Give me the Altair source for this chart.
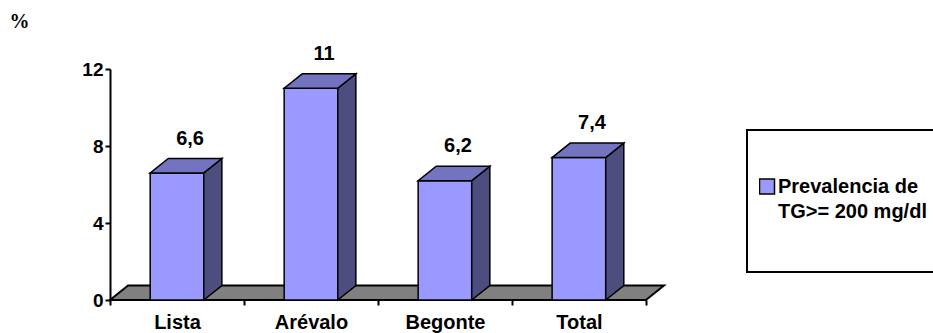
import json

import altair as alt
import pandas as pd

# Prevalence of TG >= 200 mg/dl (%) by area
categories = ["Lista", "Arévalo", "Begonte", "Total"]
values = [6.6, 11, 6.2, 7.4]
legend_lines = ["Prevalencia de", "TG>= 200 mg/dl"]
y_ticks = [0, 4, 8, 12]

series = " ".join(legend_lines)

FRONT = "#9999FF"
SIDE = "#4D4D80"
TOP = "#7373BF"
FLOOR = "#808080"
FONT = "Liberation Sans"

# pseudo-3D geometry, in data units
BAR_W = 0.4
DEPTH_X = 0.135
DEPTH_Y = 0.75

PLOT_W, PLOT_H = 556, 231
n = len(categories)
X_MAX = n + 0.15
Y_MAX = 12
BAND_PX = PLOT_W / X_MAX

front_rows, side_rows, top_rows = [], [], []
for i, (cat, v) in enumerate(zip(categories, values)):
    x1 = i + 0.5 - BAR_W / 2
    x2 = x1 + BAR_W
    front_rows.append({
        "cat": cat, "series": series, "x1": x1, "x2": x2, "value": v, "zero": 0,
        "label": f"{v:g}".replace(".", ","),
        "lx": (x1 + x2) / 2 + DEPTH_X / 2, "ly": v + DEPTH_Y,
    })
    side_rows += [
        {"cat": cat, "x": x2, "lo": 0, "hi": v},
        {"cat": cat, "x": x2 + DEPTH_X, "lo": DEPTH_Y, "hi": v + DEPTH_Y},
    ]
    top_rows += [
        {"cat": cat, "x": x1, "lo": v, "hi": v},
        {"cat": cat, "x": x1 + DEPTH_X, "lo": v, "hi": v + DEPTH_Y},
        {"cat": cat, "x": x2, "lo": v, "hi": v + DEPTH_Y},
        {"cat": cat, "x": x2 + DEPTH_X, "lo": v + DEPTH_Y, "hi": v + DEPTH_Y},
    ]
floor_rows = [
    {"x": 0, "lo": 0, "hi": 0},
    {"x": DEPTH_X, "lo": 0, "hi": DEPTH_Y},
    {"x": n, "lo": 0, "hi": DEPTH_Y},
    {"x": n + DEPTH_X, "lo": DEPTH_Y, "hi": DEPTH_Y},
]

front_df = pd.DataFrame(front_rows)
side_df = pd.DataFrame(side_rows)
top_df = pd.DataFrame(top_rows)
floor_df = pd.DataFrame(floor_rows)

xs = alt.Scale(domain=[0, X_MAX], nice=False, zero=False)
ys = alt.Scale(domain=[0, Y_MAX], nice=False)

x_axis = alt.Axis(
    values=list(range(n + 1)),
    labelExpr=json.dumps(categories + [""], ensure_ascii=False) + "[datum.value]",
    labelOffset=BAND_PX / 2,
    labelFlush=False,
    labelOverlap=False,
    domain=False,
    grid=False,
    tickSize=5,
    tickWidth=2,
    tickColor="black",
    labelFont=FONT,
    labelFontSize=20,
    labelFontWeight="bold",
    labelColor="black",
    labelPadding=7,
    title=None,
)
y_axis = alt.Axis(
    values=y_ticks,
    title="%",
    titleAngle=0,
    titleAlign="left",
    titleBaseline="alphabetic",
    titleX=-101,
    titleY=-42,
    titleFont="Liberation Serif",
    titleFontSize=20,
    titleFontWeight="bold",
    titleColor="black",
    labelFont=FONT,
    labelFontSize=19,
    labelFontWeight="bold",
    labelColor="black",
    labelPadding=2,
    tickSize=5,
    tickWidth=2,
    tickColor="black",
    domainColor="black",
    domainWidth=2,
    grid=False,
    zindex=1,
)

floor = alt.Chart(floor_df).mark_area(
    orient="vertical", fill=FLOOR, stroke="black", strokeWidth=2, strokeJoin="miter"
).encode(
    x=alt.X("x:Q", scale=xs, axis=x_axis),
    y=alt.Y("lo:Q", scale=ys, axis=y_axis),
    y2="hi:Q",
)

front = alt.Chart(front_df).mark_rect(stroke="black", strokeWidth=1.5).encode(
    x=alt.X("x1:Q", scale=xs, axis=x_axis),
    x2="x2:Q",
    y=alt.Y("value:Q", scale=ys, axis=y_axis),
    y2="zero:Q",
    fill=alt.Fill(
        "series:N",
        scale=alt.Scale(domain=[series], range=[FRONT]),
        legend=alt.Legend(
            orient="none",
            legendX=637,
            legendY=61,
            title=" ",
            titleOrient="bottom",
            titleFontSize=8,
            titlePadding=8,
            padding=12,
            strokeColor="black",
            symbolType="M-1,-1.867H1V0.133H-1Z",
            symbolSize=225,
            symbolOffset=-2,
            symbolStrokeColor="black",
            symbolStrokeWidth=1.5,
            labelFont=FONT,
            labelFontSize=20,
            labelFontWeight="bold",
            labelColor="black",
            labelBaseline="alphabetic",
            labelExpr=json.dumps(legend_lines, ensure_ascii=False),
            labelOffset=1,
            labelLimit=400,
            clipHeight=102,
        ),
    ),
)

side = alt.Chart(side_df).mark_area(
    orient="vertical", fill=SIDE, stroke="black", strokeWidth=1.5, strokeJoin="miter"
).encode(
    x=alt.X("x:Q", scale=xs, axis=x_axis),
    y=alt.Y("lo:Q", scale=ys, axis=y_axis),
    y2="hi:Q",
    detail="cat:N",
)

top = alt.Chart(top_df).mark_area(
    orient="vertical", fill=TOP, stroke="black", strokeWidth=1.5, strokeJoin="miter"
).encode(
    x=alt.X("x:Q", scale=xs, axis=x_axis),
    y=alt.Y("lo:Q", scale=ys, axis=y_axis),
    y2="hi:Q",
    detail="cat:N",
)

labels = alt.Chart(front_df).mark_text(
    font=FONT, fontSize=20, fontWeight="bold", color="black",
    baseline="alphabetic", align="center", dy=-14, dx=4,
).encode(
    x=alt.X("lx:Q", scale=xs, axis=x_axis),
    y=alt.Y("ly:Q", scale=ys, axis=y_axis),
    text="label:N",
)

chart = (
    alt.layer(floor, front, side, top, labels)
    .properties(
        width=PLOT_W,
        height=PLOT_H,
        padding={"left": 110, "top": 69, "right": 933 - 110 - PLOT_W, "bottom": 333 - 69 - PLOT_H},
        autosize=alt.AutoSizeParams(type="none"),
        background="white",
    )
    .configure(style={"guide-label": {"lineHeight": 25}})
    .configure_view(stroke=None)
    .configure_legend(strokeWidth=2)
)

chart.save("out.html", embed_options={"renderer": "svg", "actions": False})
